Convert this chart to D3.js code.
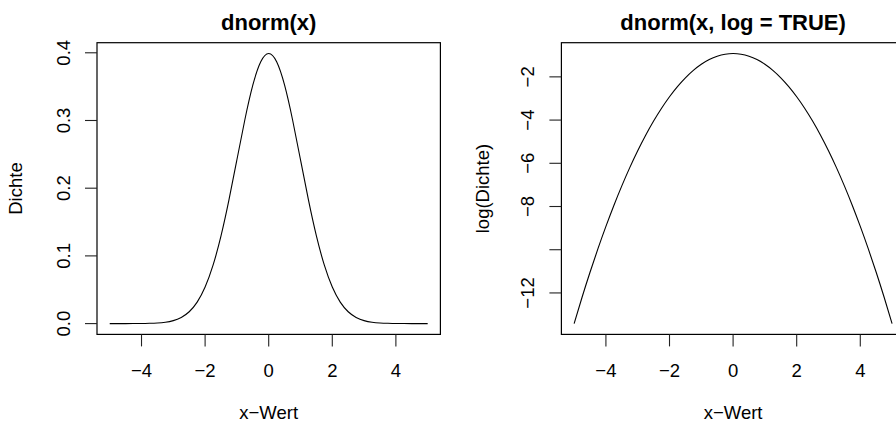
<!DOCTYPE html>
<html>
<head>
<meta charset="utf-8">
<script src="https://cdn.jsdelivr.net/npm/d3@7"></script>
<style>
  body { margin: 0; background: #fff; }
  text { font-family: "Liberation Sans", Arial, Helvetica, sans-serif; fill: #000; }
</style>
</head>
<body>
<div id="plot"></div>
<script>
// values (x from -5 to 5, step 0.25)
const xVals = [-5, -4.75, -4.5, -4.25, -4, -3.75, -3.5, -3.25, -3, -2.75, -2.5, -2.25, -2, -1.75, -1.5, -1.25, -1, -0.75, -0.5, -0.25,
  0, 0.25, 0.5, 0.75, 1, 1.25, 1.5, 1.75, 2, 2.25, 2.5, 2.75, 3, 3.25, 3.5, 3.75, 4, 4.25, 4.5, 4.75, 5];
const density = [0.0000015, 0.00001, 0.00002, 0.00005, 0.0001, 0.0004, 0.0009, 0.0020, 0.0044, 0.0091, 0.0175, 0.0317, 0.0540, 0.0863,
  0.1295, 0.1826, 0.2420, 0.3011, 0.3521, 0.3867, 0.3989, 0.3867, 0.3521, 0.3011, 0.2420, 0.1826, 0.1295, 0.0863, 0.0540, 0.0317,
  0.0175, 0.0091, 0.0044, 0.0020, 0.0009, 0.0004, 0.0001, 0.00005, 0.00002, 0.00001, 0.0000015];
const logDensity = [-13.419, -12.200, -11.044, -9.950, -8.919, -7.950, -7.044, -6.200, -5.419, -4.700, -4.044, -3.450, -2.919, -2.450,
  -2.044, -1.700, -1.419, -1.200, -1.044, -0.950, -0.919, -0.950, -1.044, -1.200, -1.419, -1.700, -2.044, -2.450, -2.919, -3.450,
  -4.044, -4.700, -5.419, -6.200, -7.044, -7.950, -8.919, -9.950, -11.044, -12.200, -13.419];

const xTicks = [-4, -2, 0, 2, 4];
const xTickLabels = ["\u22124", "\u22122", "0", "2", "4"];
const yTicksLeft = [0, 0.1, 0.2, 0.3, 0.4];
const yTickLabelsLeft = ["0.0", "0.1", "0.2", "0.3", "0.4"];
const yTicksRight = [-2, -4, -6, -8, -10, -12];
const yTickLabelsRight = ["\u22122", "\u22124", "\u22126", "\u22128", "", "\u221212"]; // -10 label dropped in original

const width = 896, height = 424;
const plotTop = 42.7, plotBottom = 334.4;
const fontSize = 18.5, titleSize = 22;

const svg = d3.select("#plot").append("svg")
  .attr("width", width)
  .attr("height", height);

function panel(opts) {
  const x = d3.scaleLinear().domain([-5.4, 5.4]).range([opts.left, opts.right]);
  const y = d3.scaleLinear().domain(opts.yDomain).range([plotBottom, plotTop]);
  const g = svg.append("g");

  // curve
  const line = d3.line()
    .x(function(d, i) { return x(xVals[i]); })
    .y(function(d) { return y(d); })
    .curve(d3.curveNatural);
  g.append("path")
    .datum(opts.values)
    .attr("d", line)
    .attr("fill", "none")
    .attr("stroke", "#000")
    .attr("stroke-width", 1.1);

  // box
  g.append("rect")
    .attr("x", opts.left).attr("y", plotTop)
    .attr("width", opts.right - opts.left).attr("height", plotBottom - plotTop)
    .attr("fill", "none").attr("stroke", "#000").attr("stroke-width", 1.2);

  // x axis
  g.selectAll(".xt").data(xTicks).enter().append("line")
    .attr("x1", d => x(d)).attr("x2", d => x(d))
    .attr("y1", plotBottom).attr("y2", plotBottom + 12)
    .attr("stroke", "#222").attr("stroke-width", 1.1);
  g.selectAll(".xl").data(xTicks).enter().append("text")
    .attr("x", d => x(d)).attr("y", 376.5)
    .attr("text-anchor", "middle")
    .style("font-size", fontSize + "px")
    .text((d, i) => xTickLabels[i]);

  // y axis
  g.selectAll(".yt").data(opts.yTicks).enter().append("line")
    .attr("x1", opts.left - 12).attr("x2", opts.left)
    .attr("y1", d => y(d)).attr("y2", d => y(d))
    .attr("stroke", "#222").attr("stroke-width", 1.1);
  g.selectAll(".yl").data(opts.yTicks).enter().append("text")
    .attr("transform", d => "translate(" + (opts.left - 27) + "," + y(d) + ") rotate(-90)")
    .attr("text-anchor", "middle")
    .style("font-size", fontSize + "px")
    .text((d, i) => opts.yLabels[i]);

  // axis titles
  g.append("text")
    .attr("x", (opts.left + opts.right) / 2).attr("y", 419)
    .attr("text-anchor", "middle")
    .style("font-size", fontSize + "px")
    .text("x\u2212Wert");
  g.append("text")
    .attr("transform", "translate(" + opts.yTitleX + "," + ((plotTop + plotBottom) / 2) + ") rotate(-90)")
    .attr("text-anchor", "middle")
    .style("font-size", fontSize + "px")
    .text(opts.yTitle);

  // main title
  g.append("text")
    .attr("x", (opts.left + opts.right) / 2).attr("y", 30)
    .attr("text-anchor", "middle")
    .style("font-size", titleSize + "px")
    .style("font-weight", "bold")
    .text(opts.title);
}

panel({
  left: 97, right: 440.4,
  yDomain: [-0.01596, 0.4149],
  values: density,
  yTicks: yTicksLeft, yLabels: yTickLabelsLeft,
  yTitle: "Dichte", yTitleX: 22,
  title: "dnorm(x)"
});

panel({
  left: 561.4, right: 904.8,
  yDomain: [-13.9189, -0.4189],
  values: logDensity,
  yTicks: yTicksRight, yLabels: yTickLabelsRight,
  yTitle: "log(Dichte)", yTitleX: 489,
  title: "dnorm(x, log = TRUE)"
});
</script>
</body>
</html>
